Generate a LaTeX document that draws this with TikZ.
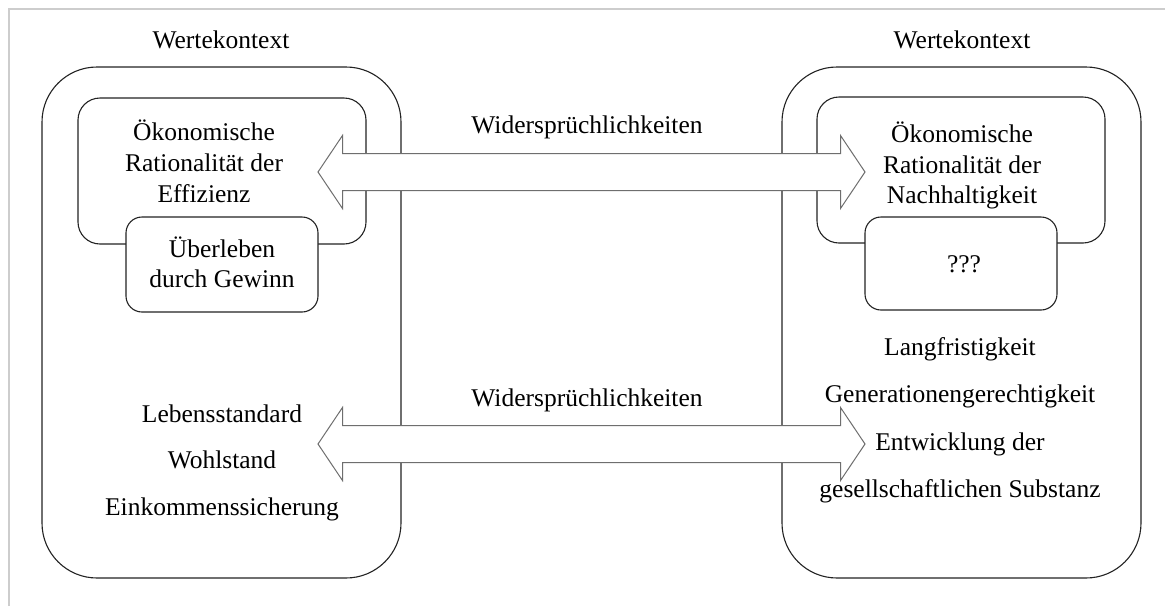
\documentclass[tikz,border=0pt]{standalone}
\usepackage{fontspec}
\setmainfont{Liberation Serif}
\definecolor{framegray}{RGB}{205,205,205}
\definecolor{arrowgray}{RGB}{110,110,110}
\definecolor{linegray}{RGB}{35,35,35}
\begin{document}
\begin{tikzpicture}[x=1pt,y=-1pt,
  box/.style={draw=linegray, line width=1.1pt, fill=white, inner sep=0pt, outer sep=0pt},
  txt/.style={anchor=base, inner sep=0pt, text=black, font=\fontsize{25.5}{30}\selectfont},
  biarr/.style={draw=arrowgray, line width=1pt, fill=white, line join=miter}]
\useasboundingbox (0,0) rectangle (1165,606);
\draw[framegray, line width=2pt] (9,606) -- (9,9) -- (1165,9);
% left context
\node[box, minimum width=359pt, minimum height=511pt, rounded corners=55pt] (LO) at (221.5,322.5) {};
\node[box, minimum width=288pt, minimum height=146pt, rounded corners=22pt] (LI) at (222,171) {};
\node[box, minimum width=192pt, minimum height=95pt, rounded corners=16pt] (LS) at (222,264.5) {};
% right context
\node[box, minimum width=359pt, minimum height=511pt, rounded corners=55pt] (RO) at (961.5,322.5) {};
\node[box, minimum width=288pt, minimum height=146pt, rounded corners=22pt] (RI) at (961,170) {};
\node[box, minimum width=192pt, minimum height=93pt, rounded corners=16pt] (RS) at (961,263.5) {};
% arrows
\coordinate (A1) at (318,172);
\coordinate (A2) at (318,444);
\foreach \a in {A1,A2}{
  \draw[biarr] (\a) -- ++(24.5,-36.5) -- ++(0,18) -- ++(498,0) -- ++(0,-18) -- ++(24.5,36.5)
    -- ++(-24.5,36.5) -- ++(0,-18) -- ++(-498,0) -- ++(0,18) -- cycle;
}
% headings
\node[txt] (hl) at (221,48) {Wertekontext};
\node[txt] (hr) at (962,48) {Wertekontext};
\node[txt] (w1) at (587,133) {Widersprüchlichkeiten};
\node[txt] (w2) at (587,406) {Widersprüchlichkeiten};
% left inner
\node[txt] (l1) at (204,140) {Ökonomische};
\node[txt] (l2) at (204,171) {Rationalität der};
\node[txt] (l3) at (204,202) {Effizienz};
\node[txt] (l4) at (222,257) {Überleben};
\node[txt] (l5) at (222,287) {durch Gewinn};
% right inner
\node[txt] (r1) at (962,142) {Ökonomische};
\node[txt] (r2) at (962,173) {Rationalität der};
\node[txt] (r3) at (962,203) {Nachhaltigkeit};
\node[txt] (r4) at (964,272) {???};
% left list
\node[txt] (ll1) at (222,422) {Lebensstandard};
\node[txt] (ll2) at (222,468) {Wohlstand};
\node[txt] (ll3) at (222,515) {Einkommenssicherung};
% right list
\node[txt] (rl1) at (960,355) {Langfristigkeit};
\node[txt] (rl2) at (960,402) {Generationengerechtigkeit};
\node[txt] (rl3) at (960,450) {Entwicklung der};
\node[txt] (rl4) at (960,497) {gesellschaftlichen Substanz};
\end{tikzpicture}
\end{document}
